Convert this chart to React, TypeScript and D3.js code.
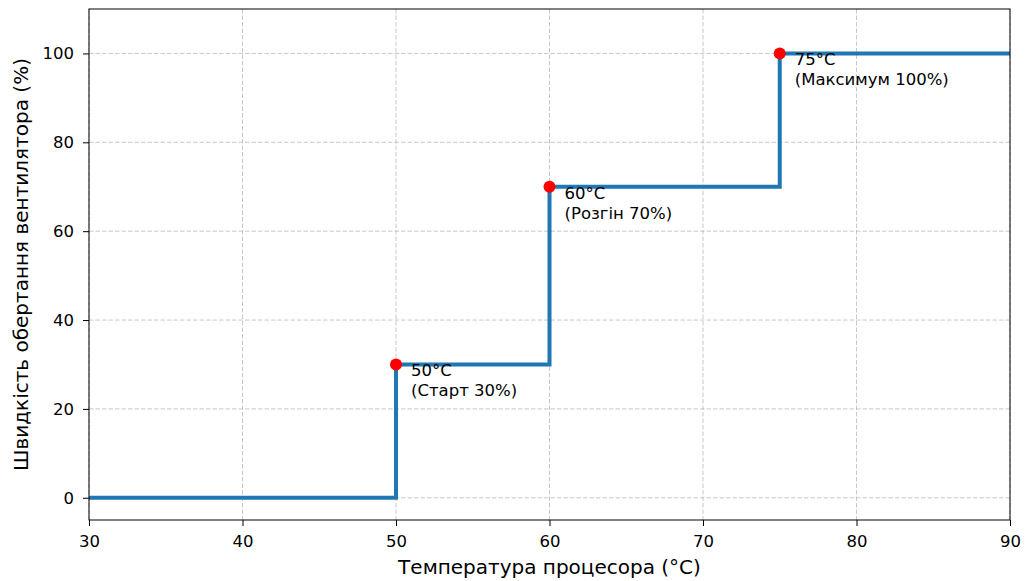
import React, { useEffect, useRef } from 'react';
import * as d3 from 'd3';

// fan curve data
const temps = [30, 50, 60, 75, 90];
const speeds = [0, 30, 70, 100, 100];

const markTemps = [50, 60, 75];
const markSpeeds = [30, 70, 100];
const markLines1 = ['50°C', '60°C', '75°C'];
const markLines2 = ['(Старт 30%)', '(Розгін 70%)', '(Максимум 100%)'];

const xTicks = [30, 40, 50, 60, 70, 80, 90];
const yTicks = [0, 20, 40, 60, 80, 100];

const xLabel = 'Температура процесора (°C)';
const yLabel = 'Швидкість обертання вентилятора (%)';

const W = 1025;
const H = 581;

const App = () => {
  const svgRef = useRef<SVGSVGElement>(null);

  useEffect(() => {
    const svg = d3.select(svgRef.current);
    svg.selectAll('*').remove();

    const margin = { top: 9, right: 15, bottom: 61, left: 89 };
    const width = W - margin.left - margin.right;
    const height = H - margin.top - margin.bottom;
    const font = 'DejaVu Sans, sans-serif';

    const x = d3.scaleLinear().domain([30, 90]).range([0, width]);
    const y = d3.scaleLinear().domain([-5, 110]).range([height, 0]);

    const g = svg.append('g').attr('transform', `translate(${margin.left},${margin.top})`);

    // grid
    g.selectAll('.vgrid')
      .data(xTicks)
      .enter()
      .append('line')
      .attr('x1', (d) => x(d))
      .attr('x2', (d) => x(d))
      .attr('y1', 0)
      .attr('y2', height)
      .attr('stroke', '#b0b0b0')
      .attr('stroke-opacity', 0.7)
      .attr('stroke-dasharray', '4.5,2')
      .attr('stroke-width', 1);
    g.selectAll('.hgrid')
      .data(yTicks)
      .enter()
      .append('line')
      .attr('x1', 0)
      .attr('x2', width)
      .attr('y1', (d) => y(d))
      .attr('y2', (d) => y(d))
      .attr('stroke', '#b0b0b0')
      .attr('stroke-opacity', 0.7)
      .attr('stroke-dasharray', '4.5,2')
      .attr('stroke-width', 1);

    // step line
    const line = d3
      .line<number>()
      .x((d, i) => x(temps[i]))
      .y((d) => y(d))
      .curve(d3.curveStepAfter);
    g.append('path')
      .datum(speeds)
      .attr('d', line)
      .attr('fill', 'none')
      .attr('stroke', '#1f77b4')
      .attr('stroke-width', 4);

    // markers
    g.selectAll('.pt')
      .data(markTemps)
      .enter()
      .append('circle')
      .attr('cx', (d) => x(d))
      .attr('cy', (d, i) => y(markSpeeds[i]))
      .attr('r', 6)
      .attr('fill', 'red');

    // annotations
    const ann = g
      .selectAll('.ann')
      .data(markTemps)
      .enter()
      .append('text')
      .attr('font-family', font)
      .attr('font-size', 16.5)
      .attr('fill', '#000')
      .attr('transform', (d, i) => `translate(${x(d) + 15},${y(markSpeeds[i]) + 12})`);
    ann.append('tspan').attr('x', 0).attr('y', 0).text((d, i) => markLines1[i]);
    ann.append('tspan').attr('x', 0).attr('y', 20).text((d, i) => markLines2[i]);

    // frame
    g.append('rect')
      .attr('width', width)
      .attr('height', height)
      .attr('fill', 'none')
      .attr('stroke', '#000')
      .attr('stroke-width', 1);

    // axes
    const xAxis = g
      .append('g')
      .attr('transform', `translate(0,${height})`)
      .call(d3.axisBottom(x).tickValues(xTicks).tickSize(6).tickPadding(9));
    const yAxis = g.append('g').call(d3.axisLeft(y).tickValues(yTicks).tickSize(6).tickPadding(9));
    [xAxis, yAxis].forEach((a) => {
      a.select('.domain').remove();
      a.selectAll('text').attr('font-family', font).attr('font-size', 16.5).attr('fill', '#000');
      a.selectAll('line').attr('stroke', '#000');
    });

    svg
      .append('text')
      .attr('x', margin.left + width / 2)
      .attr('y', H - 7)
      .attr('text-anchor', 'middle')
      .attr('font-family', font)
      .attr('font-size', 20)
      .text(xLabel);

    svg
      .append('text')
      .attr('transform', `translate(28,${margin.top + height / 2}) rotate(-90)`)
      .attr('text-anchor', 'middle')
      .attr('font-family', font)
      .attr('font-size', 20)
      .text(yLabel);
  }, []);

  return (
    <svg
      ref={svgRef}
      width={W}
      height={H}
      style={{ position: 'absolute', left: 0, top: 0, background: '#fff' }}
    ></svg>
  );
};

export default App;
